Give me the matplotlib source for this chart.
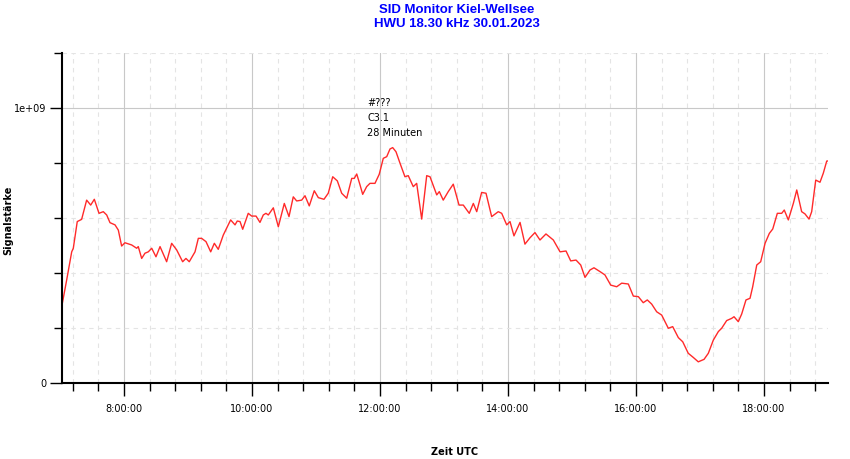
"""
SID Monitor Kiel-Wellsee, HWU 18.30 kHz, 30.01.2023
"""
import numpy as np
import matplotlib
matplotlib.use('Agg')
import matplotlib.pyplot as plt
from matplotlib.ticker import MultipleLocator, FixedLocator, FuncFormatter

# time in minutes since 00:00 UTC
minutes = [421.6, 426.3, 431.0, 432.5, 436.2, 440.3, 445.0, 448.8, 452.2, 456.6,
           460.6, 463.8, 466.9, 471.6, 474.7, 477.8, 480.9, 487.2, 491.9, 493.4,
           496.6, 499.7, 502.8, 506.0, 510.0, 513.8, 520.0, 524.7, 529.4, 535.0,
           538.1, 541.2, 546.6, 549.7, 552.8, 556.9, 561.3, 564.7, 568.4, 573.1,
           580.0, 584.1, 586.2, 588.8, 591.3, 596.5, 599.7, 603.8, 607.5, 610.6,
           613.1, 615.3, 620.0, 624.7, 630.3, 634.7, 638.7, 641.9, 646.6, 649.7,
           653.7, 658.4, 662.2, 667.5, 671.5, 675.7, 680.0, 684.1, 688.8, 693.5,
           695.9, 698.2, 701.3, 703.8, 707.5, 710.6, 715.3, 719.3, 723.1, 726.3,
           729.4, 731.9, 735.0, 738.8, 743.4, 746.5, 751.2, 754.4, 759.1, 763.8,
           766.9, 773.2, 775.6, 779.3, 784.0, 788.7, 794.1, 798.1, 803.7, 807.5,
           810.7, 815.3, 819.4, 824.7, 830.9, 834.1, 838.8, 841.9, 845.6, 851.3,
           855.9, 860.6, 865.3, 870.0, 875.6, 882.5, 888.8, 894.4, 898.8, 903.8,
           908.2, 912.2, 916.9, 920.6, 926.3, 930.9, 936.3, 941.9, 946.6, 952.8,
           957.5, 962.2, 966.8, 970.6, 974.7, 979.4, 984.1, 990.3, 994.4, 999.7,
           1003.8, 1009.0, 1013.7, 1018.4, 1023.8, 1027.8, 1032.5, 1037.2, 1040.3, 1045.0,
           1049.7, 1051.9, 1055.9, 1059.1, 1063.1, 1066.9, 1069.4, 1073.2, 1076.9, 1081.0,
           1085.0, 1088.2, 1092.5, 1096.6, 1099.0, 1102.8, 1107.5, 1110.7, 1115.3, 1118.4,
           1122.2, 1124.7, 1128.5, 1132.5, 1135.6, 1138.8, 1141.2]

# signal strength in units of 1e8
signal = [2.77, 3.75, 4.77, 4.90, 5.87, 5.95, 6.65, 6.47, 6.68, 6.17,
          6.23, 6.11, 5.83, 5.75, 5.56, 4.98, 5.10, 5.02, 4.90, 4.96,
          4.53, 4.72, 4.77, 4.90, 4.59, 4.96, 4.41, 5.08, 4.84, 4.41,
          4.53, 4.41, 4.77, 5.26, 5.26, 5.14, 4.77, 5.08, 4.86, 5.38,
          5.93, 5.75, 5.89, 5.87, 5.59, 6.17, 6.07, 6.07, 5.84, 6.11,
          6.17, 6.11, 6.37, 5.68, 6.53, 6.05, 6.77, 6.62, 6.65, 6.81,
          6.44, 6.99, 6.74, 6.68, 6.90, 7.50, 7.35, 6.90, 6.72, 7.44,
          7.44, 7.60, 7.20, 6.86, 7.14, 7.26, 7.26, 7.59, 8.17, 8.23,
          8.51, 8.56, 8.41, 7.99, 7.50, 7.54, 7.14, 7.26, 5.96, 7.54,
          7.50, 6.84, 6.96, 6.65, 6.96, 7.23, 6.47, 6.47, 6.17, 6.53,
          6.23, 6.93, 6.90, 6.05, 6.23, 6.17, 5.75, 5.87, 5.35, 5.84,
          5.05, 5.28, 5.47, 5.20, 5.42, 5.20, 4.77, 4.80, 4.44, 4.47,
          4.29, 3.84, 4.11, 4.19, 4.05, 3.93, 3.56, 3.50, 3.63, 3.60,
          3.16, 3.14, 2.92, 3.02, 2.87, 2.59, 2.47, 1.99, 2.05, 1.65,
          1.50, 1.08, 0.93, 0.77, 0.86, 1.08, 1.56, 1.87, 1.99, 2.27,
          2.35, 2.41, 2.23, 2.51, 3.02, 3.08, 3.50, 4.29, 4.41, 5.08,
          5.44, 5.60, 6.17, 6.17, 6.29, 5.93, 6.53, 7.02, 6.23, 6.15,
          5.96, 6.23, 7.38, 7.30, 7.63, 8.07, 8.08]

flare_time = 708
flare_text = ['#???', 'C3.1', '28 Minuten']
flare_y = [10.18e8, 9.64e8, 9.09e8]

x = np.array(minutes)
y = np.array(signal) * 1e8

fig = plt.figure(figsize=(8.5, 4.59), dpi=100)
ax = fig.add_axes([62/850, 1-383/459, 766/850, 330/459])

ax.plot(x, y, color='#ff2a2a', lw=1.0)

ax.set_xlim(421.9, 1140)
ax.set_ylim(0, 1.2e9)

ax.xaxis.set_major_locator(MultipleLocator(120))
ax.xaxis.set_minor_locator(MultipleLocator(24))
ax.xaxis.set_major_formatter(FuncFormatter(lambda v, p: '%d:%02d:00' % (v // 60, v % 60)))
ax.yaxis.set_major_locator(FixedLocator([0, 1e9]))
ax.yaxis.set_minor_locator(MultipleLocator(2e8))
ax.yaxis.set_major_formatter(FuncFormatter(lambda v, p: '0' if v == 0 else '%.0e' % v))

ax.grid(which='major', color='#c8c8c8', lw=0.8, ls='-')
ax.grid(which='minor', color='#e4e4e4', lw=0.8, ls=(0, (4, 4)))
ax.set_axisbelow(True)

for s in ['top', 'right']:
    ax.spines[s].set_visible(False)
for s in ['left', 'bottom']:
    ax.spines[s].set_linewidth(1.5)

ax.tick_params(which='major', length=9, width=1, labelsize=7, pad=2)
ax.tick_params(which='minor', length=6, width=1)
ax.tick_params(axis='x', which='major', pad=6)

for t, yy in zip(flare_text, flare_y):
    ax.text(flare_time, yy, t, fontsize=7, va='center', ha='left')

fig.text(457/850, 1-10/459, 'SID Monitor Kiel-Wellsee', color='blue',
         fontsize=9.5, fontweight='bold', family='Liberation Sans',
         ha='center', va='center')
fig.text(457/850, 1-24/459, 'HWU 18.30 kHz 30.01.2023', color='blue',
         fontsize=9.5, fontweight='bold', family='Liberation Sans',
         ha='center', va='center')
fig.text(455/850, 1-452/459, 'Zeit UTC', fontsize=7, fontweight='bold',
         ha='center', va='center')
fig.text(8/850, 1-220/459, 'Signalstärke', fontsize=7, fontweight='bold',
         rotation=90, ha='center', va='center')

fig.savefig('out.png', dpi=100)
